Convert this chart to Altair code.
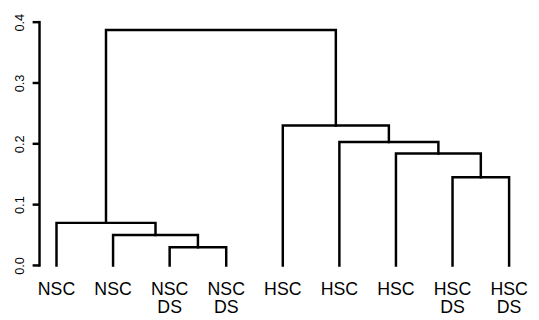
import altair as alt
import pandas as pd

leaf_labels = ["NSC", "NSC", "NSC\nDS", "NSC\nDS", "HSC", "HSC", "HSC", "HSC\nDS", "HSC\nDS"]
# R-style merge matrix: negative = leaf index, positive = earlier merge
merge_left = [-3, -2, -1, -8, -7, -6, -5, 3]
merge_right = [-4, 1, 2, -9, 4, 5, 6, 7]
merge_height = [0.030, 0.050, 0.070, 0.145, 0.184, 0.203, 0.230, 0.387]
y_ticks = [0.0, 0.1, 0.2, 0.3, 0.4]

rows = []
node_x, node_h = {}, {}
def pos(c):
    if c < 0:
        return float(-c), 0.0
    return node_x[c], node_h[c]
for i, (a, b, h) in enumerate(zip(merge_left, merge_right, merge_height)):
    ax, ah = pos(a)
    bx, bh = pos(b)
    for k, (px, py) in enumerate([(ax, ah), (ax, h), (bx, h), (bx, bh)]):
        rows.append({"m": i, "k": k, "x": px, "y": py})
    node_x[i + 1] = (ax + bx) / 2
    node_h[i + 1] = h

seg = pd.DataFrame(rows)
leaves = pd.DataFrame({"x": list(range(1, len(leaf_labels) + 1)), "label": leaf_labels})
ticks_df = pd.DataFrame({"v": y_ticks})

xs = alt.Scale(domain=[0.7, 9.3], nice=False, zero=False)
ys = alt.Scale(domain=[0, 0.4], nice=False, zero=True)
ink = "#000000"

y_axis = alt.Axis(values=y_ticks, format=".1f", title=None, grid=False,
                  tickSize=7, tickOpacity=0, domainOpacity=0,
                  labelAngle=270, labelAlign="center", labelBaseline="alphabetic",
                  labelPadding=9, labelFontSize=13, labelFont="Liberation Sans",
                  labelColor=ink)

lines = alt.Chart(seg).mark_line(color=ink, strokeWidth=2.5, strokeJoin="miter", strokeCap="square").encode(
    x=alt.X("x:Q", scale=xs, axis=None),
    y=alt.Y("y:Q", scale=ys, axis=y_axis),
    detail="m:N",
    order="k:Q",
)

axis_line = alt.Chart(ticks_df).mark_rule(color=ink, strokeWidth=2.5, strokeCap="square").encode(
    x=alt.value(0),
    y=alt.Y("min(v):Q", scale=ys, axis=y_axis),
    y2="max(v):Q",
)

axis_ticks = alt.Chart(ticks_df).mark_rule(color=ink, strokeWidth=2.5).encode(
    x=alt.value(-7),
    x2=alt.value(0),
    y=alt.Y("v:Q", scale=ys, axis=y_axis),
)

texts = alt.Chart(leaves).mark_text(fontSize=18, font="Liberation Sans", lineBreak="\n",
                                    lineHeight=18, baseline="alphabetic", align="center",
                                    color=ink).encode(
    x=alt.X("x:Q", scale=xs, axis=None),
    y=alt.value(277),
    text="label:N",
)

chart = alt.layer(lines, axis_line, axis_ticks, texts).properties(
    width=494, height=247,
    background="white",
    autosize=alt.AutoSizeParams(type="none"),
    padding={"left": 32, "top": 12, "right": 5, "bottom": 53},
).configure_view(strokeWidth=0)

chart.save("out.html", embed_options={"renderer": "svg", "actions": False})
